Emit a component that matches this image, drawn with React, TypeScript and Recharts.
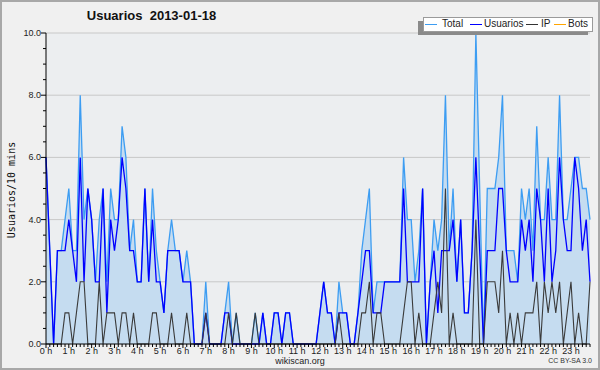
import { ComposedChart, Area, Line, XAxis, YAxis, CartesianGrid } from 'recharts';

// one value per 10 minutes, 144 per day (rows = one hour)
const usuarios = [
  6, 3, 0, 3, 3, 3, 4, 3, 2, 6, 2, 5, 4, 2, 2, 5, 1, 4, 3, 4, 6, 5, 3, 3,
  2, 2, 5, 2, 4, 2, 2, 1, 3, 3, 3, 3, 2, 2, 2, 0, 0, 0, 1, 0, 0, 0, 0, 1,
  1, 0, 0, 0, 0, 0, 0, 0, 0, 1, 0, 0, 1, 1, 0, 1, 1, 0, 0, 0, 0, 0, 0, 0,
  1, 2, 1, 1, 0, 1, 1, 1, 0, 0, 1, 2, 3, 3, 1, 1, 1, 2, 2, 2, 2, 2, 5, 2,
  2, 2, 2, 5, 0, 2, 3, 1, 3, 3, 3, 4, 2, 4, 1, 1, 3, 6, 3, 0, 3, 3, 3, 5,
  5, 3, 2, 2, 2, 4, 3, 4, 2, 5, 4, 2, 5, 2, 3, 6, 4, 3, 3, 6, 5, 3, 4, 2,
];

const ip = [
  0, 0, 0, 0, 0, 1, 1, 0, 1, 2, 2, 0, 0, 0, 2, 0, 1, 1, 1, 0, 1, 1, 0, 1,
  0, 0, 0, 0, 1, 1, 0, 0, 0, 1, 0, 0, 0, 1, 0, 0, 0, 0, 1, 0, 0, 0, 0, 0,
  1, 0, 1, 0, 0, 0, 0, 1, 0, 0, 0, 0, 0, 0, 0, 0, 0, 0, 0, 0, 0, 0, 0, 0,
  0, 0, 0, 0, 0, 1, 0, 0, 0, 0, 0, 1, 1, 2, 0, 1, 1, 0, 0, 0, 0, 0, 1, 2,
  2, 0, 1, 0, 0, 0, 1, 2, 1, 5, 0, 1, 0, 0, 0, 0, 0, 4, 0, 0, 2, 2, 2, 1,
  3, 0, 1, 0, 1, 0, 1, 1, 1, 2, 0, 2, 1, 2, 1, 2, 0, 1, 2, 0, 1, 0, 0, 2,
];

const total = [
  6, 3, 0, 3, 3, 4, 5, 3, 3, 8, 4, 5, 4, 2, 4, 5, 2, 5, 4, 4, 7, 6, 3, 4,
  2, 2, 5, 2, 5, 3, 2, 1, 3, 4, 3, 3, 2, 3, 2, 0, 0, 0, 2, 0, 0, 0, 0, 1,
  2, 0, 1, 0, 0, 0, 0, 1, 0, 1, 0, 0, 1, 1, 0, 1, 1, 0, 0, 0, 0, 0, 0, 0,
  1, 2, 1, 1, 0, 2, 1, 1, 0, 0, 1, 3, 4, 5, 1, 2, 2, 2, 2, 2, 2, 2, 6, 4,
  4, 2, 3, 5, 0, 2, 4, 3, 4, 8, 3, 5, 2, 4, 1, 1, 3, 10, 5, 0, 5, 5, 5, 6,
  8, 3, 3, 3, 2, 5, 4, 5, 3, 7, 4, 4, 6, 4, 4, 8, 4, 4, 5, 6, 6, 5, 5, 4,
];

const hourLabels = Array.from({ length: 24 }, (_, h) => `${h} h`);
const xTicks = usuarios.map((_, i) => i);
const yTicks = Array.from({ length: 21 }, (_, k) => k * 0.5);

const legendItems = [
  { name: 'Total', color: '#3d9df2', lineX: 425, textX: 442 },
  { name: 'Usuarios', color: '#0000ff', lineX: 470, textX: 484 },
  { name: 'IP', color: '#333333', lineX: 526, textX: 541 },
  { name: 'Bots', color: '#ffa500', lineX: 554, textX: 568 },
];

const data = usuarios.map((u, i) => ({ i, total: total[i], usuarios: u, ip: ip[i] }));

const XTick = (props: any) => {
  const { x, y, payload } = props;
  const v = payload.value;
  const major = v % 6 === 0;
  return (
    <g>
      <line x1={x} x2={x} y1={y} y2={y + (major ? 4 : 3)} stroke="#000" strokeWidth={1} />
      {major && (
        <text x={x} y={y + 10} textAnchor="middle" fontSize={9} fill="#222" fontFamily="Liberation Sans">
          {hourLabels[v / 6]}
        </text>
      )}
    </g>
  );
};

const YTick = (props: any) => {
  const { x, y, payload } = props;
  const v = payload.value;
  const major = v % 2 === 0;
  return (
    <g>
      <line x1={x - (major ? 5 : 3)} x2={x} y1={y} y2={y} stroke="#000" strokeWidth={1} />
      {major && (
        <text x={x - 5} y={y + 3} textAnchor="end" fontSize={9} fill="#222" fontFamily="Liberation Sans">
          {v.toFixed(1)}
        </text>
      )}
    </g>
  );
};

export default function App() {
  return (
    <div style={{ position: 'absolute', left: 0, top: 0, width: 600, height: 370, background: '#f0f0f0', fontFamily: 'Liberation Sans' }}>
      <ComposedChart width={600} height={370} data={data} margin={{ top: 33, right: 10, bottom: 14, left: 0 }}>
        <CartesianGrid vertical={false} horizontalValues={[2, 4, 6, 8, 10]} stroke="#c8c8c8" fill="#eceef0" />
        <XAxis
          dataKey="i"
          type="number"
          domain={[0, 143]}
          ticks={xTicks}
          interval={0}
          tick={<XTick />}
          tickLine={false}
          tickSize={0}
          tickMargin={0}
          height={12}
          axisLine={{ stroke: '#000' }}
        />
        <YAxis
          domain={[0, 10]}
          ticks={yTicks}
          interval={0}
          tick={<YTick />}
          tickLine={false}
          tickSize={0}
          tickMargin={0}
          width={46}
          axisLine={{ stroke: '#000' }}
        />
        <Area type="linear" dataKey="total" stroke="#3d9df2" strokeWidth={1.3} fill="#c5dcf0" fillOpacity={1} isAnimationActive={false} />
        <Line type="linear" dataKey="usuarios" stroke="#0000ff" strokeWidth={1.3} dot={false} isAnimationActive={false} />
        <Line type="linear" dataKey="ip" stroke="#3a3a3a" strokeWidth={1.1} dot={false} isAnimationActive={false} />
      </ComposedChart>

      <div style={{ position: 'absolute', left: 85, top: 8, width: 133, textAlign: 'center', fontSize: 13, fontWeight: 'bold', color: '#111', whiteSpace: 'pre' }}>
        {'Usuarios  2013-01-18'}
      </div>

      <div style={{ position: 'absolute', left: 2, top: 184, width: 20, height: 12, transform: 'rotate(-90deg)', display: 'flex', justifyContent: 'center' }}>
        <span style={{ fontFamily: 'DejaVu Sans Mono', fontSize: 10, whiteSpace: 'nowrap', color: '#111' }}>Usuarios/10 mins</span>
      </div>

      {/* legend box with offset shadow */}
      <div style={{ position: 'absolute', left: 418, top: 21, width: 170, height: 14, background: '#8a8a8a' }} />
      <div style={{ position: 'absolute', left: 423, top: 17, width: 168, height: 13, background: '#fff', border: '1px solid #9a9a9a' }} />
      {legendItems.map((it) => (
        <div key={it.name}>
          <div style={{ position: 'absolute', left: it.lineX, top: 24, width: 12, height: 1, background: it.color }} />
          <div style={{ position: 'absolute', left: it.textX, top: 18, fontSize: 10, color: '#222', lineHeight: '12px' }}>{it.name}</div>
        </div>
      ))}

      <div style={{ position: 'absolute', left: 250, top: 356, width: 100, textAlign: 'center', fontSize: 9, color: '#222' }}>wikiscan.org</div>
      <div style={{ position: 'absolute', left: 540, top: 357, width: 52, textAlign: 'right', fontSize: 7, color: '#333' }}>CC BY-SA 3.0</div>

      <div style={{ position: 'absolute', left: 0, top: 0, width: 600, height: 370, boxSizing: 'border-box', border: '2px solid #a8a8a8', pointerEvents: 'none' }} />
    </div>
  );
}
